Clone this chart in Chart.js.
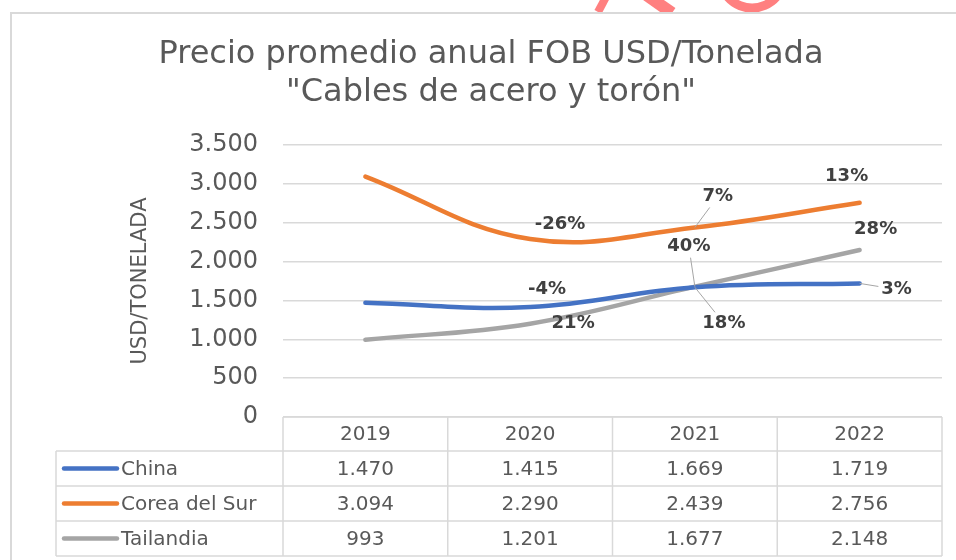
<!DOCTYPE html>
<html lang="es">
<head>
<meta charset="UTF-8">
<title>Precio promedio anual FOB</title>
<style>
  body { margin: 0; background: #ffffff; }
  #wrap { width: 956px; height: 560px; }
</style>
</head>
<body>
<div id="wrap"><canvas id="chart" width="956" height="560"></canvas></div>
<script src="https://cdn.jsdelivr.net/npm/chart.js"></script>
<script>
// data
const years = ['2019', '2020', '2021', '2022'];
const seriesNames = ['China', 'Corea del Sur', 'Tailandia'];
const china = [1470, 1415, 1669, 1719];
const corea = [3094, 2290, 2439, 2756];
const tailandia = [993, 1201, 1677, 2148];
const yTicks = [0, 500, 1000, 1500, 2000, 2500, 3000, 3500];

// where each change label sits, relative to its point (first point has none)
const labelOffsets = [
  [null, [17, -18], [29, 36], [37, 6]],
  [null, [30, -15], [23, -31], [-13, -26]],
  [null, [43, 0], [-6, -40], [16, -21]]
];
const leaders = [
  [false, false, true, true],
  [false, false, true, false],
  [false, false, true, false]
];

const colors = ['#4472C4', '#ED7D31', '#A5A5A5'];
const textColor = '#595959';
const gridColor = '#D9D9D9';
const FONT = '"DejaVu Sans", Verdana, sans-serif';

function fmt(v) {
  return String(v).replace(/\B(?=(\d{3})+(?!\d))/g, '.');
}
function pct(arr, i) {
  return Math.round((arr[i] / arr[i - 1] - 1) * 100) + '%';
}

const backdrop = {
  id: 'backdrop',
  beforeDraw(chart) {
    const c = chart.ctx;
    c.save();
    c.fillStyle = '#fff';
    c.fillRect(0, 0, chart.width, chart.height);
    // bits of a red logo poking in above the frame
    c.strokeStyle = '#FF8080';
    c.lineCap = 'butt';
    c.lineWidth = 8;
    c.beginPath(); c.moveTo(606, -3); c.lineTo(598, 12); c.stroke();
    c.lineWidth = 12;
    c.beginPath(); c.moveTo(645, -6); c.lineTo(672, 13); c.stroke();
    c.lineWidth = 9;
    c.beginPath(); c.arc(752, -24, 32, 0.12 * Math.PI, 0.95 * Math.PI); c.stroke();
    c.fillStyle = '#fff';
    c.fillRect(0, 13, chart.width, chart.height);
    // frame
    c.strokeStyle = gridColor;
    c.lineWidth = 2;
    c.beginPath();
    c.moveTo(11, chart.height + 2);
    c.lineTo(11, 13);
    c.lineTo(chart.width + 2, 13);
    c.stroke();
    // title
    c.fillStyle = textColor;
    c.textAlign = 'center';
    c.textBaseline = 'middle';
    c.font = '32px ' + FONT;
    c.fillText('Precio promedio anual FOB USD/Tonelada', 491, 55);
    c.fillText('"Cables de acero y torón"', 491, 93);
    c.restore();
  }
};

const changeLabels = {
  id: 'changeLabels',
  afterDatasetsDraw(chart) {
    const c = chart.ctx;
    c.save();
    c.font = 'bold 18px ' + FONT;
    c.textAlign = 'center';
    c.textBaseline = 'middle';
    chart.data.datasets.forEach((ds, i) => {
      const meta = chart.getDatasetMeta(i);
      ds.data.forEach((v, j) => {
        const off = labelOffsets[i][j];
        if (!off) return;
        const p = meta.data[j];
        const txt = pct(ds.data, j);
        const lx = p.x + off[0], ly = p.y + off[1];
        if (leaders[i][j]) {
          const w = c.measureText(txt).width / 2 + 3;
          const h = 11;
          const t = Math.min(w / Math.abs(off[0] || 0.001), h / Math.abs(off[1] || 0.001));
          c.strokeStyle = '#A6A6A6';
          c.lineWidth = 1;
          c.beginPath();
          c.moveTo(p.x, p.y);
          c.lineTo(lx - off[0] * t, ly - off[1] * t);
          c.stroke();
        }
        c.fillStyle = '#404040';
        c.fillText(txt, lx, ly);
      });
    });
    c.restore();
  }
};

const dataTable = {
  id: 'dataTable',
  afterDraw(chart) {
    const c = chart.ctx;
    const x = chart.scales.x;
    const area = chart.chartArea;
    const colW = (area.right - area.left) / years.length;
    const tableLeft = 56;
    const rows = [area.bottom, 451, 486, 521, 556];
    c.save();
    c.strokeStyle = gridColor;
    c.lineWidth = 1.5;
    c.beginPath();
    // header row
    c.moveTo(area.left, rows[0]); c.lineTo(area.right, rows[0]);
    for (let r = 1; r < rows.length; r++) {
      c.moveTo(tableLeft, rows[r]); c.lineTo(area.right, rows[r]);
    }
    c.moveTo(tableLeft, rows[1]); c.lineTo(tableLeft, rows[4]);
    for (let k = 0; k <= years.length; k++) {
      const cx = area.left + k * colW;
      c.moveTo(cx, rows[0]); c.lineTo(cx, rows[4]);
    }
    c.stroke();

    c.font = '20px ' + FONT;
    c.fillStyle = textColor;
    c.textAlign = 'center';
    c.textBaseline = 'middle';
    years.forEach((y, j) => {
      c.fillText(y, x.getPixelForValue(j), (rows[0] + rows[1]) / 2 + 1);
    });
    chart.data.datasets.forEach((ds, i) => {
      const cy = (rows[i + 1] + rows[i + 2]) / 2 + 1;
      ds.data.forEach((v, j) => {
        c.fillText(fmt(v), x.getPixelForValue(j), cy);
      });
      // legend key
      c.strokeStyle = ds.borderColor;
      c.lineWidth = 4.5;
      c.lineCap = 'round';
      c.beginPath();
      c.moveTo(64, cy - 1); c.lineTo(117, cy - 1);
      c.stroke();
      c.textAlign = 'left';
      c.fillText(ds.label, 121, cy);
      c.textAlign = 'center';
    });
    c.restore();
  }
};

const series = [china, corea, tailandia];

new Chart(document.getElementById('chart'), {
  type: 'line',
  data: {
    labels: years,
    datasets: series.map((d, i) => ({
      label: seriesNames[i],
      data: d,
      borderColor: colors[i],
      backgroundColor: colors[i],
      borderWidth: 4.5,
      borderCapStyle: 'round',
      tension: 0.4,
      pointRadius: 0,
      fill: false
    }))
  },
  options: {
    responsive: false,
    animation: false,
    devicePixelRatio: 1,
    layout: { padding: { left: 128, right: 14, top: 145, bottom: 143 } },
    plugins: {
      legend: { display: false },
      title: { display: false },
      tooltip: { enabled: false }
    },
    scales: {
      x: {
        type: 'category',
        offset: true,
        display: false
      },
      y: {
        min: 0,
        max: 3500,
        afterFit(scale) { scale.width = 155; },
        afterBuildTicks(scale) { scale.ticks = yTicks.map(v => ({ value: v })); },
        grid: { color: gridColor, lineWidth: 1.5, drawTicks: false },
        border: { display: false },
        ticks: {
          padding: 25,
          color: textColor,
          font: { family: FONT, size: 24 },
          callback: v => fmt(v)
        },
        title: {
          display: true,
          text: 'USD/TONELADA',
          color: textColor,
          padding: 0,
          font: { family: FONT, size: 21 }
        }
      }
    }
  },
  plugins: [backdrop, changeLabels, dataTable]
});
</script>
</body>
</html>
